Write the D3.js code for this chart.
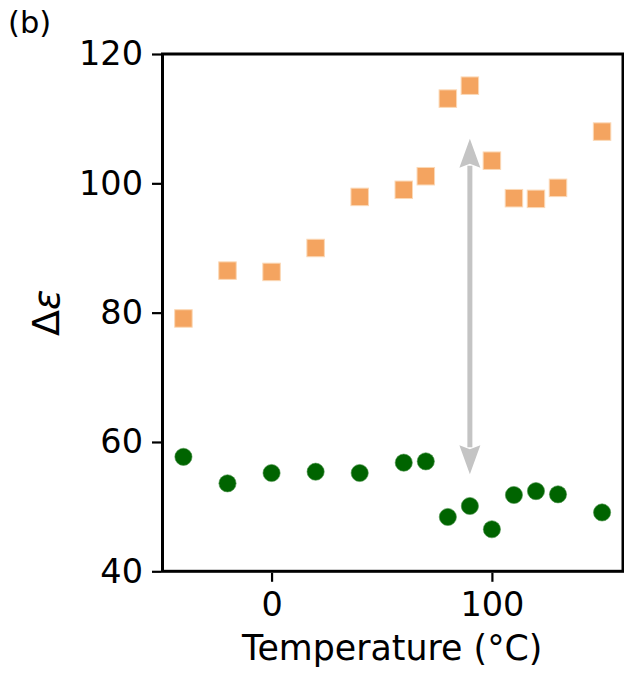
<!DOCTYPE html>
<html>
<head>
<meta charset="utf-8">
<script src="https://cdn.jsdelivr.net/npm/d3@7/dist/d3.min.js"></script>
<style>
  html, body { margin: 0; padding: 0; background: #fff; }
  svg { display: block; font-family: "DejaVu Sans", sans-serif; }
</style>
</head>
<body>
<svg id="chart" width="624" height="675"></svg>
<script>
// ---- data ----
const temperatures = [-40, -20, 0, 20, 40, 60, 70, 80, 90, 100, 110, 120, 130, 150];
const upperSeries = [79.1, 86.5, 86.3, 90.0, 97.9, 99.0, 101.1, 113.1, 115.1, 103.5, 97.7, 97.6, 99.3, 108.0];
const lowerSeries = [57.7, 53.6, 55.2, 55.4, 55.2, 56.8, 57.0, 48.4, 50.1, 46.5, 51.8, 52.4, 51.9, 49.1];
const xTicks = [0, 100];
const yTicks = [40, 60, 80, 100, 120];
const arrowX = [90];
const arrowEnds = [55.0, 106.9];
const xDomain = [-49.5, 159.5];
const yDomain = [40, 120];

// ---- layout ----
const svg = d3.select("#chart");
const L = 162.5, R = 623, T = 54, B = 571.3;
const x = d3.scaleLinear().domain(xDomain).range([L, R]);
const y = d3.scaleLinear().domain(yDomain).range([B, T]);

const tickFont = 33.5, labelFont = 34.8;

// arrow (double headed, grey)
const arrowColor = "#c4c4c4";
const ax = x(arrowX[0]);
const yLow = y(arrowEnds[0]), yHigh = y(arrowEnds[1]);
const headLen = 29, headW = 21;
svg.append("line")
  .attr("x1", ax).attr("x2", ax)
  .attr("y1", yHigh + headLen - 2).attr("y2", yLow - headLen + 2)
  .attr("stroke", arrowColor).attr("stroke-width", 5);
svg.append("path")
  .attr("d", `M${ax},${yHigh} L${ax - headW/2},${yHigh + headLen} L${ax},${yHigh + headLen - 4} L${ax + headW/2},${yHigh + headLen} Z`)
  .attr("fill", arrowColor);
svg.append("path")
  .attr("d", `M${ax},${yLow} L${ax - headW/2},${yLow - headLen} L${ax},${yLow - headLen + 4} L${ax + headW/2},${yLow - headLen} Z`)
  .attr("fill", arrowColor);

// orange squares
const sq = 17.5;
svg.append("g").selectAll("rect")
  .data(temperatures.map((t, i) => [t, upperSeries[i]]))
  .join("rect")
  .attr("x", d => x(d[0]) - sq / 2)
  .attr("y", d => y(d[1]) - sq / 2)
  .attr("width", sq).attr("height", sq)
  .attr("fill", "#f4a460")
  .attr("stroke", "#fbd8b6").attr("stroke-width", 1);

// green circles
svg.append("g").selectAll("circle")
  .data(temperatures.map((t, i) => [t, lowerSeries[i]]))
  .join("circle")
  .attr("cx", d => x(d[0]))
  .attr("cy", d => y(d[1]))
  .attr("r", 8.6)
  .attr("fill", "#006400")
  .attr("stroke", "#4d934d").attr("stroke-width", 0.6);

// axes frame
svg.append("rect")
  .attr("x", L).attr("y", T).attr("width", R - L).attr("height", B - T)
  .attr("fill", "none").attr("stroke", "#000").attr("stroke-width", 3);

// x axis
const xAxis = d3.axisBottom(x).tickValues(xTicks).tickSize(9).tickPadding(10).tickFormat(d3.format("d"));
const gx = svg.append("g").attr("transform", `translate(0,${B + 1.5})`).call(xAxis);
gx.select(".domain").remove();
gx.selectAll(".tick line").attr("stroke", "#000").attr("stroke-width", 2.2);
gx.selectAll(".tick text").attr("font-size", tickFont).attr("font-family", "DejaVu Sans").attr("fill", "#000");

// y axis
const yAxis = d3.axisLeft(y).tickValues(yTicks).tickSize(9).tickPadding(9).tickFormat(d3.format("d"));
const gy = svg.append("g").attr("transform", `translate(${L - 1.5},0)`).call(yAxis);
gy.select(".domain").remove();
gy.selectAll(".tick line").attr("stroke", "#000").attr("stroke-width", 2.2);
gy.selectAll(".tick text").attr("font-size", tickFont).attr("font-family", "DejaVu Sans").attr("fill", "#000");

// labels
svg.append("text")
  .attr("x", (L + R) / 2 - 0.5).attr("y", 660)
  .attr("text-anchor", "middle")
  .attr("font-size", labelFont)
  .text("Temperature (°C)");

svg.append("text")
  .attr("transform", `translate(59,${(T + B) / 2}) rotate(-90)`)
  .attr("text-anchor", "middle")
  .attr("font-size", 38)
  .html('Δ<tspan font-style="italic">ε</tspan>');

svg.append("text")
  .attr("x", 8).attr("y", 33)
  .attr("font-size", 30.5)
  .text("(b)");
</script>
</body>
</html>
